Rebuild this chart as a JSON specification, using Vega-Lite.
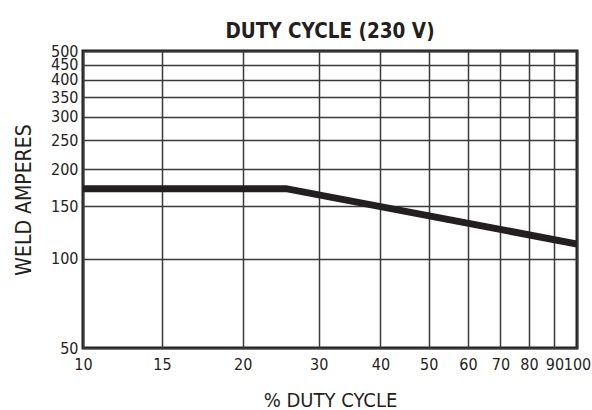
{
  "$schema": "https://vega.github.io/schema/vega-lite/v6.json",
  "autosize": {"type": "none"},
  "padding": {"left": 83, "top": 51, "right": 15, "bottom": 62},
  "width": 494,
  "height": 297,
  "background": "white",
  "title": {
    "text": "DUTY CYCLE (230 V)",
    "font": "DejaVu Sans Condensed, Liberation Sans, sans-serif",
    "fontSize": 20.5,
    "fontWeight": "bold",
    "color": "#231f20",
    "anchor": "middle",
    "frame": "group",
    "offset": 1
  },
  "config": {
    "view": {"stroke": "#231f20", "strokeWidth": 3},
    "axis": {
      "labelFont": "DejaVu Sans Condensed, Liberation Sans, sans-serif",
      "labelFontSize": 16,
      "labelColor": "#231f20",
      "titleFont": "DejaVu Sans Condensed, Liberation Sans, sans-serif",
      "titleFontSize": 20,
      "titleFontWeight": "normal",
      "titleColor": "#231f20",
      "ticks": false,
      "domain": false,
      "grid": true,
      "gridColor": "#3a3a3a",
      "gridWidth": 1.5,
      "gridOpacity": 1,
      "labelOverlap": false,
      "labelBound": false,
      "labelFlush": false
    }
  },
  "data": {
    "values": [
      {"duty": 10, "amps": 172},
      {"duty": 25.7, "amps": 172},
      {"duty": 100, "amps": 112}
    ]
  },
  "mark": {"type": "line", "color": "#231f20", "strokeWidth": 7, "strokeCap": "butt", "clip": true},
  "encoding": {
    "x": {
      "field": "duty",
      "type": "quantitative",
      "scale": {
        "type": "linear",
        "domain": [10, 15, 20, 30, 40, 50, 60, 70, 80, 90, 100],
        "range": [0, 79, 159.7, 235.7, 297.4, 345.7, 385, 417.4, 446, 471.4, 494]
      },
      "axis": {
        "title": "% DUTY CYCLE",
        "values": [10, 15, 20, 30, 40, 50, 60, 70, 80, 90, 100],
        "labelPadding": 8,
        "titlePadding": 18
      }
    },
    "y": {
      "field": "amps",
      "type": "quantitative",
      "scale": {"type": "log", "domain": [50, 500], "nice": false},
      "axis": {
        "title": "WELD AMPERES",
        "titleFontSize": 21,
        "values": [50, 100, 150, 200, 250, 300, 350, 400, 450, 500],
        "labelPadding": 5,
        "titlePadding": 16
      }
    }
  }
}
